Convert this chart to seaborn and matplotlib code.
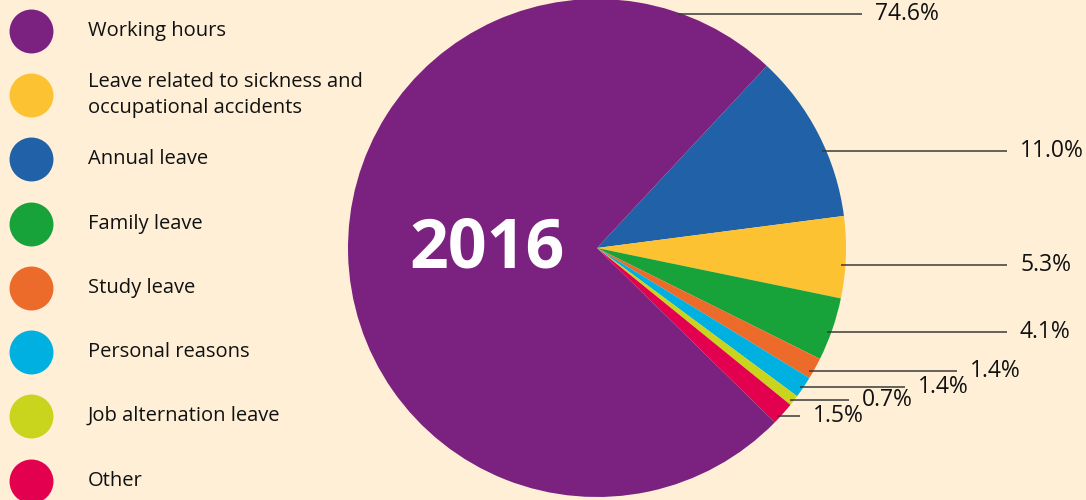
#! /usr/bin/env python3
import numpy as np
import matplotlib
import matplotlib.pyplot as plt
import seaborn as sns

# legend order
categories = [
    'Working hours',
    'Leave related to sickness and\noccupational accidents',
    'Annual leave',
    'Family leave',
    'Study leave',
    'Personal reasons',
    'Job alternation leave',
    'Other',
]
shares = [74.6, 5.3, 11.0, 4.1, 1.4, 1.4, 0.7, 1.5]
colors = ['#7B2180', '#FCC232', '#2161A8', '#17A33A',
          '#EC6A2A', '#00B0E0', '#C9D41C', '#E2004F']
year_label = '2016'

# clockwise drawing order of the pie, starting from the top-right wedge
pie_order = [2, 1, 3, 4, 5, 6, 7, 0]

bg = '#FEEFD6'
sns.set_theme(style='white')
plt.rcParams['font.family'] = ['Open Sans', 'DejaVu Sans']

fig = plt.figure(figsize=(10.86, 5.0), dpi=100, facecolor=bg)
ax = fig.add_axes([0, 0, 1, 1])
ax.set_facecolor(bg)

cx, cy, r = 597, 252, 249
pal = sns.color_palette([colors[i] for i in pie_order])
ax.pie([shares[i] for i in pie_order], colors=pal, startangle=47,
       counterclock=False, center=(cx, cy), radius=r,
       wedgeprops=dict(linewidth=0), frame=True)
ax.set_xlim(0, 1086)
ax.set_ylim(0, 500)
ax.set_aspect('equal')
ax.axis('off')

ax.text(487, cy - 2, year_label, color='white', fontsize=49, fontweight='bold',
        ha='center', va='center')

# leader lines: pixel row of each line and where it ends
label_rows = [14, 151, 265, 332, 371, 387, 400, 416]
line_ends = [862, 1007, 1007, 1007, 957, 905, 849, 800]
for k, i in enumerate(pie_order[-1:] + pie_order[:-1]):
    y = 500 - label_rows[k]
    x0 = cx + np.sqrt(max(r ** 2 - (y - cy) ** 2, 0)) - 4
    ax.plot([x0, line_ends[k]], [y, y], color='#3a3a3a', lw=1.1,
            solid_capstyle='butt')
    ax.text(line_ends[k] + 13, y, f'{shares[i]:.1f}%', fontsize=16.5,
            ha='left', va='center', color='#111111')

# legend column
legend_rows = [31, 95, 159, 224, 288, 352, 416, 481]
for i, lab in enumerate(categories):
    y = 500 - legend_rows[i]
    ax.scatter([31], [y], s=1000, color=colors[i], linewidths=0, clip_on=False)
    ax.text(88, y, lab, fontsize=14.5, ha='left', va='center',
            color='#111111', linespacing=1.35)

plt.savefig('out.png', dpi=100, facecolor=bg)
